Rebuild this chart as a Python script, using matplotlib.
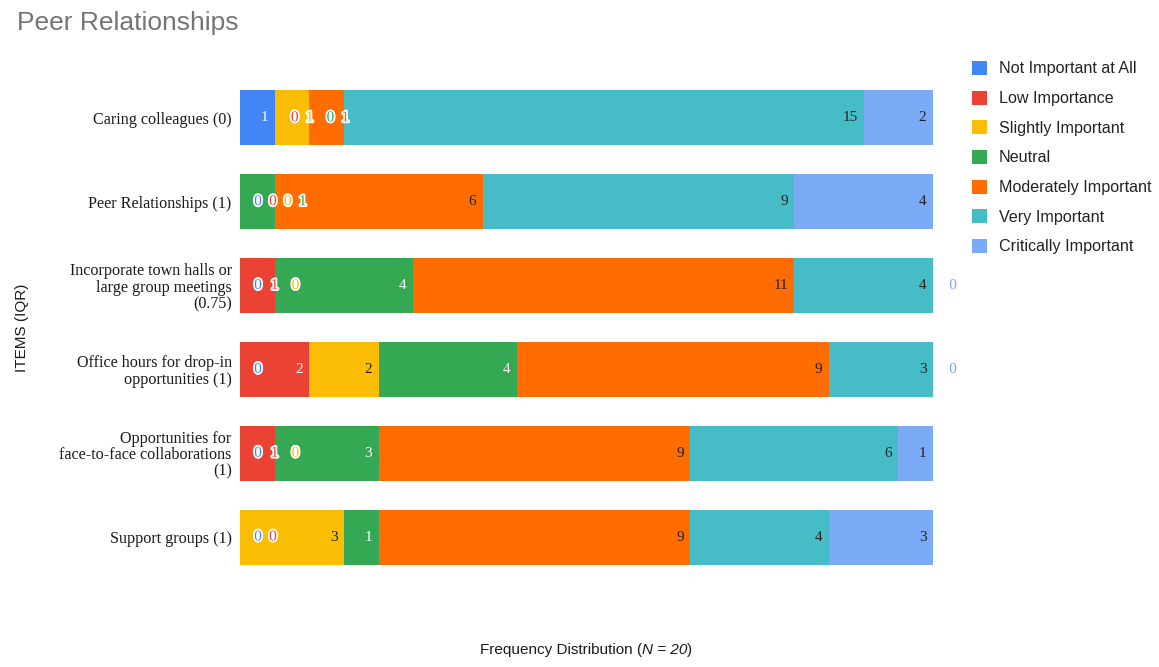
import matplotlib
matplotlib.use("Agg")
import matplotlib.pyplot as plt
import matplotlib.patheffects as pe
from matplotlib.patches import Patch

# ---- data -------------------------------------------------------------
items = [
    "Caring colleagues (0)",
    "Peer Relationships (1)",
    "Incorporate town halls or\nlarge group meetings\n(0.75)",
    "Office hours for drop-in\nopportunities (1)",
    "Opportunities for\nface-to-face collaborations\n(1)",
    "Support groups (1)",
]
levels = [
    "Not Important at All",
    "Low Importance",
    "Slightly Important",
    "Neutral",
    "Moderately Important",
    "Very Important",
    "Critically Important",
]
not_important = [1, 0, 0, 0, 0, 0]
low_importance = [0, 0, 1, 2, 1, 0]
slightly_important = [1, 0, 0, 2, 0, 3]
neutral = [0, 1, 4, 4, 3, 1]
moderately_important = [1, 6, 11, 9, 9, 9]
very_important = [15, 9, 4, 3, 6, 4]
critically_important = [2, 4, 0, 0, 1, 3]
n_total = 20

series = [not_important, low_importance, slightly_important, neutral,
          moderately_important, very_important, critically_important]

# ---- styling ----------------------------------------------------------
colors = ["#4285F4", "#EA4335", "#FBBC04", "#34A853",
          "#FF6D01", "#46BDC6", "#7BAAF7"]
text_on = ["white", "white", "#222222", "white",
           "#222222", "#222222", "#222222"]
SERIF = "Liberation Serif"
SANS = "Liberation Sans"

W, H = 1159, 667
fig = plt.figure(figsize=(W / 100, H / 100), dpi=100)
ax = fig.add_axes([240 / W, 1 - 579 / H, (933 - 240) / W, (579 - 76) / H])

ypos = list(range(len(items)))
bar_h = 0.655
lefts = [0] * len(items)
for s, vals in enumerate(series):
    ax.barh(ypos, vals, left=lefts, height=bar_h, color=colors[s],
            linewidth=0, label=levels[s])
    lefts = [l + v for l, v in zip(lefts, vals)]

ax.set_xlim(0, n_total)
ax.set_ylim(len(items) - 0.5, -0.5)
ax.set_xticks([])
ax.set_yticks(ypos)
ax.set_yticklabels(items, fontfamily=SERIF, fontsize=11.6, color="#1a1a1a",
                   ha="right", multialignment="right", linespacing=1.02)
ax.tick_params(axis="y", length=0, pad=6)
for sp in ax.spines.values():
    sp.set_visible(False)

# ---- value labels -----------------------------------------------------
# Labels that fit sit right-aligned inside their segment; zero-width or
# crowded segments get a haloed label in the series colour, pushed along
# so the labels do not overlap.
digit_w = 0.2        # width of one digit, in data units
pad = 0.2            # inner right padding
first_min = 0.52     # leftmost centre of a haloed label
halo = [pe.withStroke(linewidth=2.6, foreground="white")]

for i in ypos:
    row = [s[i] for s in series]
    left = 0
    cursor = first_min
    for k, v in enumerate(row):
        end = left + v
        txt = str(v)
        w = digit_w * len(txt)
        haloed = v == 0 or (v == 1 and k > 0 and row[k - 1] == 0)
        if not haloed:
            xc = end - pad - w / 2
            ax.text(xc, i, txt, ha="center", va="center", fontsize=11,
                    fontfamily=SERIF, color=text_on[k])
            cursor = xc + 0.88
        else:
            xc = max(end, cursor)
            ax.text(xc, i, txt, ha="center", va="center", fontsize=11,
                    fontfamily=SERIF, color=colors[k], path_effects=halo,
                    clip_on=False)
            cursor = xc + (0.43 if v == 0 else 0.6)
        left = end

# ---- titles & legend --------------------------------------------------
fig.text(17 / W, 1 - 23 / H, "Peer Relationships", fontfamily=SANS,
         fontsize=19, color="#757575", ha="left", va="center")

# x-axis title: upright words followed by an italic "N = 20"
xl_y = 1 - 650 / H
xl_parts = [("Frequency Distribution (", "normal"),
            ("N = 20", "italic"), (")", "normal")]
renderer = fig.canvas.get_renderer()
pieces = []
for txt, style in xl_parts:
    t = fig.text(0, xl_y, txt, fontfamily=SANS, fontsize=11, style=style,
                 color="#1a1a1a", ha="left", va="center")
    pieces.append(t)
widths = [p.get_window_extent(renderer).width for p in pieces]
x0 = 586 - sum(widths) / 2
for p, wpx in zip(pieces, widths):
    p.set_x(x0 / W)
    x0 += wpx

fig.text(22 / W, 1 - 328 / H, "ITEMS (IQR)", fontfamily=SANS, fontsize=11,
         color="#1a1a1a", rotation=90, ha="center", va="center")

handles = [Patch(facecolor=c, edgecolor="none", label=l)
           for c, l in zip(colors, levels)]
fig.legend(handles=handles, loc="upper left",
           bbox_to_anchor=(972 / W, 1 - 61 / H), frameon=False,
           prop={"family": SANS, "size": 11.6}, labelcolor="#222222",
           handlelength=0.95, handleheight=0.95, handletextpad=0.7,
           labelspacing=0.88, borderpad=0, borderaxespad=0)

fig.savefig("out.png", dpi=100, facecolor="white")
